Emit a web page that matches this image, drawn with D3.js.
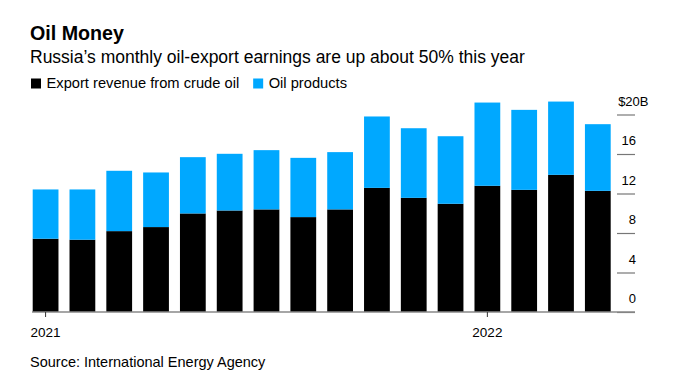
<!DOCTYPE html>
<html>
<head>
<meta charset="utf-8">
<script src="https://cdn.jsdelivr.net/npm/d3@7"></script>
<style>
  html, body { margin: 0; padding: 0; background: #fff; }
  svg { display: block; font-family: "Liberation Sans", Arial, Helvetica, sans-serif; }
</style>
</head>
<body>
<svg id="chart" width="680" height="382"></svg>
<script>
// ---- Data (USD billions) ----
const months = ["2021-01","2021-02","2021-03","2021-04","2021-05","2021-06","2021-07","2021-08",
                "2021-09","2021-10","2021-11","2021-12","2022-01","2022-02","2022-03","2022-04"];
const crudeOil = [7.42, 7.32, 8.19, 8.60, 9.98, 10.28, 10.39, 9.61,
                  10.39, 12.57, 11.56, 10.96, 12.78, 12.37, 13.89, 12.27];
const oilProducts = [4.99, 5.09, 6.11, 5.53, 5.70, 5.74, 6.00, 6.00,
                     5.80, 7.23, 7.05, 6.84, 8.43, 8.10, 7.42, 6.75];
const yTicks = [0, 4, 8, 12, 16, 20];
const xTicks = ["2021-01", "2022-01"];
const seriesNames = ["Export revenue from crude oil", "Oil products"];
const colors = ["#000000", "#00a8ff"];

const svg = d3.select("#chart");

// ---- Titles ----
svg.append("text").attr("x", 30).attr("y", 40)
  .attr("font-size", 20).attr("font-weight", "bold").attr("fill", "#000")
  .attr("textLength", 94).attr("lengthAdjust", "spacingAndGlyphs")
  .text("Oil Money");
svg.append("text").attr("x", 30).attr("y", 63.3)
  .attr("font-size", 17.5).attr("fill", "#000")
  .text("Russia\u2019s monthly oil-export earnings are up about 50% this year");

// ---- Legend ----
let lx = 31;
seriesNames.forEach((name, i) => {
  svg.append("rect").attr("x", lx).attr("y", 78.5).attr("width", 10).attr("height", 10)
    .attr("fill", colors[i]);
  const t = svg.append("text").attr("x", lx + 15.5).attr("y", 88.3)
    .attr("font-size", 14.7).attr("fill", "#000").text(name);
  lx = lx + 15.5 + t.node().getComputedTextLength() + 14;
});

// ---- Scales ----
const x = d3.scaleBand().domain(months).range([32.7, 610.7]).paddingInner(0.3).paddingOuter(0);
const y = d3.scaleLinear().domain([0, 20]).range([312, 114.5]);

// ---- Stack ----
const rows = months.map((m, i) => ({ month: m, crude: crudeOil[i], products: oilProducts[i] }));
const stacked = d3.stack().keys(["crude", "products"])(rows);

svg.append("g").selectAll("g").data(stacked).join("g")
  .attr("fill", (d, i) => colors[i])
  .selectAll("rect").data(d => d).join("rect")
  .attr("x", d => x(d.data.month))
  .attr("width", x.bandwidth())
  .attr("y", d => y(d[1]))
  .attr("height", d => y(d[0]) - y(d[1]));

// ---- Y axis (right) ----
const yAxis = svg.append("g").attr("transform", "translate(617,0)")
  .call(d3.axisRight(y).tickValues(yTicks).tickSize(18)
    .tickFormat(d => d === 20 ? "$20B" : d));
yAxis.select(".domain").remove();
yAxis.selectAll(".tick line").attr("stroke", "#777").attr("stroke-width", 1.2);
yAxis.selectAll(".tick text")
  .attr("x", d => d === 20 ? 31.5 : 19)
  .attr("dy", 0).attr("y", -9.5)
  .attr("text-anchor", "end")
  .attr("font-size", 13).attr("fill", "#000")
  .attr("font-family", "\"Liberation Sans\", Arial, sans-serif");

// ---- X axis ----
svg.append("line").attr("x1", 32).attr("x2", 635).attr("y1", 312).attr("y2", 312)
  .attr("stroke", "#888").attr("stroke-width", 1.3);
const xAxis = svg.append("g").attr("transform", "translate(0,312)")
  .call(d3.axisBottom(x).tickValues(xTicks).tickSize(5).tickFormat(d => d.slice(0, 4)));
xAxis.select(".domain").remove();
xAxis.selectAll(".tick line").attr("stroke", "#333");
xAxis.selectAll(".tick text")
  .attr("y", 24.7).attr("dy", 0)
  .attr("font-size", 13.5).attr("fill", "#000")
  .attr("font-family", "\"Liberation Sans\", Arial, sans-serif");

// ---- Source ----
svg.append("text").attr("x", 30).attr("y", 367.3)
  .attr("font-size", 14.5).attr("fill", "#000")
  .text("Source: International Energy Agency");
</script>
</body>
</html>
